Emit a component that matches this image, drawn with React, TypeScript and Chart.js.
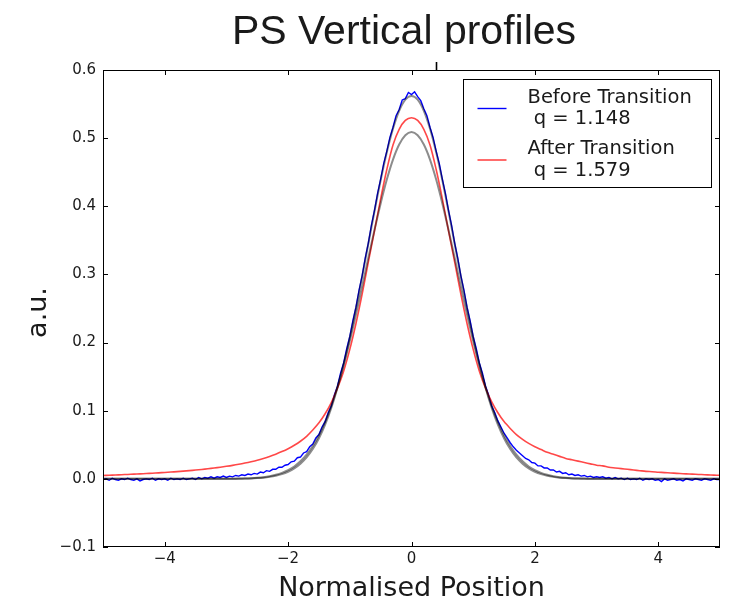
import React, { useEffect, useRef } from "react";
import { Chart, registerables } from "chart.js";

Chart.register(...registerables);

const TITLE = "PS Vertical profiles";
const X_LABEL = "Normalised Position";
const Y_LABEL = "a.u.";
const X_TICKS = [-4, -2, 0, 2, 4];
const Y_TICKS = [-0.1, 0, 0.1, 0.2, 0.3, 0.4, 0.5, 0.6];
const LEGEND_BEFORE = ["Before Transition", " q = 1.148"];
const LEGEND_AFTER = ["After Transition", " q = 1.579"];
const STRAY_MARK_X = [0.4];

// measured profile "Before Transition" (noisy)
const BLUE_X = [
  -5, -4.95, -4.9, -4.85, -4.8, -4.75, -4.7, -4.65, -4.6, -4.55, -4.5, -4.45, -4.4, -4.35, -4.3, -4.25, -4.2, -4.15, -4.1, -4.05,
  -4, -3.95, -3.9, -3.85, -3.8, -3.75, -3.7, -3.65, -3.6, -3.55, -3.5, -3.45, -3.4, -3.35, -3.3, -3.25, -3.2, -3.15, -3.1, -3.05,
  -3, -2.95, -2.9, -2.85, -2.8, -2.75, -2.7, -2.65, -2.6, -2.55, -2.5, -2.45, -2.4, -2.35, -2.3, -2.25, -2.2, -2.15, -2.1, -2.05,
  -2, -1.95, -1.9, -1.85, -1.8, -1.75, -1.7, -1.65, -1.6, -1.55, -1.5, -1.45, -1.4, -1.35, -1.3, -1.25, -1.2, -1.15, -1.1, -1.05,
  -1, -0.95, -0.9, -0.85, -0.8, -0.75, -0.7, -0.65, -0.6, -0.55, -0.5, -0.45, -0.4, -0.35, -0.3, -0.25, -0.2, -0.15, -0.1, -0.05,
  0, 0.05, 0.1, 0.15, 0.2, 0.25, 0.3, 0.35, 0.4, 0.45, 0.5, 0.55, 0.6, 0.65, 0.7, 0.75, 0.8, 0.85, 0.9, 0.95,
  1, 1.05, 1.1, 1.15, 1.2, 1.25, 1.3, 1.35, 1.4, 1.45, 1.5, 1.55, 1.6, 1.65, 1.7, 1.75, 1.8, 1.85, 1.9, 1.95,
  2, 2.05, 2.1, 2.15, 2.2, 2.25, 2.3, 2.35, 2.4, 2.45, 2.5, 2.55, 2.6, 2.65, 2.7, 2.75, 2.8, 2.85, 2.9, 2.95,
  3, 3.05, 3.1, 3.15, 3.2, 3.25, 3.3, 3.35, 3.4, 3.45, 3.5, 3.55, 3.6, 3.65, 3.7, 3.75, 3.8, 3.85, 3.9, 3.95,
  4, 4.05, 4.1, 4.15, 4.2, 4.25, 4.3, 4.35, 4.4, 4.45, 4.5, 4.55, 4.6, 4.65, 4.7, 4.75, 4.8, 4.85, 4.9, 4.95,
  5,
];
const BLUE_Y = [
  -0.001, 0.0, -0.002, 0.001, -0.001, -0.002, 0.0, -0.001, 0.001, -0.001, -0.002, 0.0, -0.003, -0.001, 0.0, -0.001, 0.001, -0.002, 0.0, -0.001,
  0.0, -0.002, 0.001, -0.001, 0.0, -0.001, 0.001, -0.001, 0.0, 0.001, -0.001, 0.002, 0.0, 0.002, 0.001, 0.003, 0.001, 0.003, 0.002, 0.004,
  0.002, 0.004, 0.003, 0.005, 0.004, 0.006, 0.005, 0.007, 0.006, 0.008, 0.007, 0.01, 0.009, 0.012, 0.011, 0.014, 0.014, 0.017, 0.017, 0.02,
  0.021, 0.025, 0.026, 0.031, 0.032, 0.038, 0.04, 0.047, 0.051, 0.06, 0.065, 0.076, 0.084, 0.097, 0.107, 0.123, 0.136, 0.155, 0.17, 0.191,
  0.209, 0.232, 0.252, 0.277, 0.298, 0.324, 0.346, 0.372, 0.394, 0.419, 0.44, 0.463, 0.481, 0.501, 0.516, 0.533, 0.542, 0.556, 0.558, 0.567,
  0.564, 0.568, 0.561, 0.555, 0.543, 0.533, 0.516, 0.501, 0.481, 0.463, 0.44, 0.419, 0.394, 0.372, 0.346, 0.324, 0.298, 0.277, 0.252, 0.232,
  0.209, 0.191, 0.17, 0.155, 0.136, 0.123, 0.107, 0.097, 0.085, 0.076, 0.067, 0.06, 0.053, 0.047, 0.042, 0.038, 0.034, 0.03, 0.028, 0.024,
  0.023, 0.019, 0.019, 0.016, 0.016, 0.013, 0.013, 0.01, 0.011, 0.008, 0.009, 0.006, 0.007, 0.005, 0.006, 0.004, 0.005, 0.003, 0.004, 0.002,
  0.003, 0.002, 0.003, 0.001, 0.002, 0.0, 0.002, 0.0, 0.001, -0.001, 0.001, -0.001, 0.0, -0.001, 0.001, -0.002, 0.0, -0.001, 0.0, -0.002,
  -0.001, -0.004, 0.0, -0.002, -0.001, 0.0, -0.002, -0.001, -0.003, 0.0, -0.001, -0.002, 0.0, -0.001, -0.002, 0.0, -0.001, -0.002, 0.0, -0.001,
  -0.001,
];

// sample positions of the smooth curves
const FIT_X = [
  -5, -4.9, -4.8, -4.7, -4.6, -4.5, -4.4, -4.3, -4.2, -4.1, -4, -3.9, -3.8, -3.7, -3.6, -3.5, -3.4, -3.3, -3.2, -3.1,
  -3, -2.9, -2.8, -2.7, -2.6, -2.5, -2.4, -2.3, -2.2, -2.1, -2, -1.9, -1.8, -1.7, -1.6, -1.5, -1.4, -1.3, -1.2, -1.1,
  -1, -0.9, -0.8, -0.7, -0.6, -0.5, -0.4, -0.3, -0.2, -0.1, 0, 0.1, 0.2, 0.3, 0.4, 0.5, 0.6, 0.7, 0.8, 0.9,
  1, 1.1, 1.2, 1.3, 1.4, 1.5, 1.6, 1.7, 1.8, 1.9, 2, 2.1, 2.2, 2.3, 2.4, 2.5, 2.6, 2.7, 2.8, 2.9,
  3, 3.1, 3.2, 3.3, 3.4, 3.5, 3.6, 3.7, 3.8, 3.9, 4, 4.1, 4.2, 4.3, 4.4, 4.5, 4.6, 4.7, 4.8, 4.9, 5,
];

// measured profile "After Transition"
const RED_Y = [
  0.005, 0.0053, 0.0057, 0.0061, 0.0065, 0.0069, 0.0073, 0.0078, 0.0083, 0.0088, 0.0094, 0.01, 0.0106, 0.0113, 0.0121, 0.0129, 0.0138, 0.0148, 0.0159, 0.0171,
  0.0184, 0.0198, 0.0214, 0.0232, 0.0252, 0.0274, 0.03, 0.0329, 0.0362, 0.04, 0.0443, 0.0493, 0.0552, 0.0624, 0.0716, 0.0822, 0.0955, 0.112, 0.133, 0.158,
  0.19, 0.228, 0.271, 0.318, 0.364, 0.411, 0.454, 0.49, 0.513, 0.526, 0.53, 0.526, 0.513, 0.49, 0.454, 0.411, 0.364, 0.318, 0.271, 0.228,
  0.19, 0.158, 0.133, 0.113, 0.097, 0.084, 0.074, 0.065, 0.058, 0.052, 0.047, 0.043, 0.039, 0.036, 0.033, 0.03, 0.028, 0.026, 0.024, 0.022,
  0.02, 0.019, 0.017, 0.016, 0.015, 0.014, 0.013, 0.012, 0.011, 0.0105, 0.0098, 0.0092, 0.0086, 0.0081, 0.0076, 0.0071, 0.0067, 0.0063, 0.0059, 0.0055, 0.0052,
];

// gray fit to the "Before" profile
const FIT_BEFORE_Y = [
  0, 0, 0, 0, 0, 0, 0, 0, 0, 0, 0, 0, 0, 0, 0, 0, 0, 0, 0, 0,
  0, 0.0001, 0.0002, 0.0004, 0.0006, 0.0011, 0.0018, 0.0029, 0.0045, 0.0069, 0.0104, 0.0153, 0.0222, 0.0315, 0.0437, 0.0596, 0.0796, 0.1041, 0.1337, 0.1681,
  0.2073, 0.2505, 0.2968, 0.3447, 0.3925, 0.438, 0.4791, 0.5137, 0.54, 0.5564, 0.562, 0.5564, 0.54, 0.5137, 0.4791, 0.438, 0.3925, 0.3447, 0.2968, 0.2505,
  0.2073, 0.1681, 0.1337, 0.1041, 0.0796, 0.0596, 0.0437, 0.0315, 0.0222, 0.0153, 0.0104, 0.0069, 0.0045, 0.0029, 0.0018, 0.0011, 0.0006, 0.0004, 0.0002, 0.0001,
  0, 0, 0, 0, 0, 0, 0, 0, 0, 0, 0, 0, 0, 0, 0, 0, 0, 0, 0, 0, 0,
];

// gray fit to the "After" profile
const FIT_AFTER_Y = [
  0, 0, 0, 0, 0, 0, 0, 0, 0, 0, 0, 0, 0, 0, 0, 0, 0, 0, 0, 0,
  0.0001, 0.0002, 0.0004, 0.0006, 0.001, 0.0016, 0.0025, 0.0039, 0.0059, 0.0087, 0.0127, 0.0182, 0.0257, 0.0354, 0.0481, 0.0639, 0.0835, 0.1071, 0.1349, 0.1668,
  0.2024, 0.2412, 0.2821, 0.324, 0.3652, 0.4042, 0.4392, 0.4685, 0.4906, 0.5043, 0.509, 0.5043, 0.4906, 0.4685, 0.4392, 0.4042, 0.3652, 0.324, 0.2821, 0.2412,
  0.2024, 0.1668, 0.1349, 0.1071, 0.0835, 0.0639, 0.0481, 0.0354, 0.0257, 0.0182, 0.0127, 0.0087, 0.0059, 0.0039, 0.0025, 0.0016, 0.001, 0.0006, 0.0004, 0.0002,
  0.0001, 0, 0, 0, 0, 0, 0, 0, 0, 0, 0, 0, 0, 0, 0, 0, 0, 0, 0, 0, 0,
];

const BLUE = "#0000ff";
const RED = "rgba(255,0,0,0.72)";
const GRAY = "rgba(0,0,0,0.45)";
const TEXT = "#1a1a1a";
const TICK_FONT = "DejaVu Sans";

const fmt = (v: number, d: number) => {
  const s = Math.abs(v).toFixed(d);
  return v < -1e-9 ? "\u2212" + s : s;
};

const pts = (xs: number[], ys: number[]) => xs.map((x, i) => ({ x, y: ys[i] }));

const decorPlugin = {
  id: "decor",
  afterDraw(chart: any) {
    const { ctx, chartArea: a, scales } = chart;
    const xs = scales.x;
    const ys = scales.y;
    ctx.save();
    // frame
    ctx.strokeStyle = "#000";
    ctx.lineWidth = 1;
    ctx.strokeRect(a.left + 0.5, a.top + 0.5, a.right - a.left - 1, a.bottom - a.top - 1);
    // inward ticks on four sides
    const tl = 5;
    ctx.beginPath();
    X_TICKS.forEach((v) => {
      const p = Math.round(xs.getPixelForValue(v)) + 0.5;
      ctx.moveTo(p, a.bottom);
      ctx.lineTo(p, a.bottom - tl);
      ctx.moveTo(p, a.top);
      ctx.lineTo(p, a.top + tl);
    });
    Y_TICKS.forEach((v) => {
      const p = Math.round(ys.getPixelForValue(v)) + 0.5;
      ctx.moveTo(a.left, p);
      ctx.lineTo(a.left + tl, p);
      ctx.moveTo(a.right, p);
      ctx.lineTo(a.right - tl, p);
    });
    ctx.stroke();
    // stray mark above the frame
    ctx.lineWidth = 1.6;
    ctx.beginPath();
    STRAY_MARK_X.forEach((v) => {
      const p = Math.round(xs.getPixelForValue(v)) + 0.5;
      ctx.moveTo(p, a.top - 8);
      ctx.lineTo(p, a.top);
    });
    ctx.stroke();

    // title
    ctx.fillStyle = TEXT;
    ctx.textAlign = "center";
    ctx.textBaseline = "alphabetic";
    ctx.font = '41px "Liberation Sans", Arial, sans-serif';
    ctx.fillText(TITLE, 404, 44);

    // axis titles
    ctx.font = `27px "${TICK_FONT}"`;
    ctx.fillText(X_LABEL, (a.left + a.right) / 2, 596);
    ctx.save();
    ctx.translate(46, (a.top + a.bottom) / 2 + 4);
    ctx.rotate(-Math.PI / 2);
    ctx.fillText(Y_LABEL, 0, 0);
    ctx.restore();

    // legend
    const bx = a.left + 360.5;
    const by = a.top + 9.5;
    const bw = 248;
    const bh = 108;
    ctx.fillStyle = "#fff";
    ctx.fillRect(bx, by, bw, bh);
    ctx.strokeStyle = "#000";
    ctx.lineWidth = 1;
    ctx.strokeRect(bx, by, bw, bh);
    const entries = [
      { lines: LEGEND_BEFORE, color: BLUE, width: 1.4, y: 0 },
      { lines: LEGEND_AFTER, color: RED, width: 1.6, y: 51.5 },
    ];
    ctx.font = `19.5px "${TICK_FONT}"`;
    ctx.textAlign = "left";
    entries.forEach((e) => {
      ctx.strokeStyle = e.color;
      ctx.lineWidth = e.width;
      ctx.beginPath();
      ctx.moveTo(bx + 14, by + 29 + e.y);
      ctx.lineTo(bx + 43, by + 29 + e.y);
      ctx.stroke();
      ctx.fillStyle = TEXT;
      ctx.fillText(e.lines[0], bx + 64, by + 23 + e.y);
      ctx.fillText(e.lines[1], bx + 64, by + 44.5 + e.y);
    });
    ctx.restore();
  },
};

export default function App() {
  const ref = useRef<HTMLCanvasElement | null>(null);
  useEffect(() => {
    if (!ref.current) return;
    const chart = new Chart(ref.current, {
      type: "line",
      data: {
        datasets: [
          {
            label: "fit before",
            data: pts(FIT_X, FIT_BEFORE_Y),
            borderColor: GRAY,
            borderWidth: 2,
            pointRadius: 0,
            tension: 0.3,
            order: 0,
          },
          {
            label: "fit after",
            data: pts(FIT_X, FIT_AFTER_Y),
            borderColor: GRAY,
            borderWidth: 2,
            pointRadius: 0,
            tension: 0.3,
            order: 1,
          },
          {
            label: "After Transition q = 1.579",
            data: pts(FIT_X, RED_Y),
            borderColor: RED,
            borderWidth: 1.6,
            pointRadius: 0,
            tension: 0.3,
            order: 2,
          },
          {
            label: "Before Transition q = 1.148",
            data: pts(BLUE_X, BLUE_Y),
            borderColor: BLUE,
            borderWidth: 1.4,
            pointRadius: 0,
            tension: 0,
            order: 3,
          },
        ],
      },
      options: {
        responsive: false,
        animation: false,
        devicePixelRatio: 1,
        layout: { padding: { top: 70, right: 11, left: 0, bottom: 0 } },
        plugins: {
          legend: { display: false },
          tooltip: { enabled: false },
          title: { display: false },
        },
        scales: {
          x: {
            type: "linear",
            min: -5,
            max: 5,
            grid: { display: false, drawTicks: false },
            border: { display: false },
            afterBuildTicks: (s: any) => {
              s.ticks = X_TICKS.map((v) => ({ value: v }));
            },
            afterFit: (s: any) => {
              s.height = 53;
            },
            ticks: {
              font: { family: TICK_FONT, size: 15 },
              color: TEXT,
              padding: 3,
              maxRotation: 0,
              autoSkip: false,
              callback: (v: any) => fmt(Number(v), 0),
            },
          },
          y: {
            type: "linear",
            min: -0.1,
            max: 0.6,
            grid: { display: false, drawTicks: false },
            border: { display: false },
            afterBuildTicks: (s: any) => {
              s.ticks = Y_TICKS.map((v) => ({ value: v }));
            },
            afterFit: (s: any) => {
              s.width = 103;
            },
            ticks: {
              font: { family: TICK_FONT, size: 15 },
              color: TEXT,
              padding: 7,
              autoSkip: false,
              callback: (v: any) => fmt(Number(v), 1),
            },
          },
        },
      },
      plugins: [decorPlugin],
    });
    return () => chart.destroy();
  }, []);
  return (
    <div style={{ position: "absolute", left: 0, top: 0, width: 731, height: 600, background: "#fff" }}>
      <canvas ref={ref} width={731} height={600} />
    </div>
  );
}
